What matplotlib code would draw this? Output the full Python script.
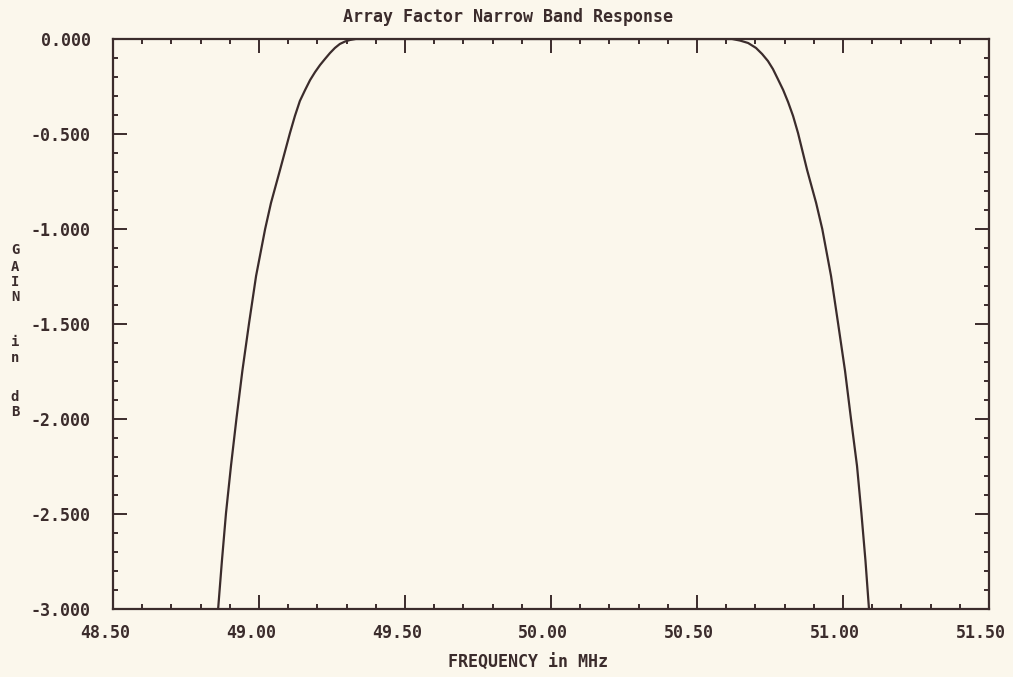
import numpy as np
import matplotlib
matplotlib.use('agg')
import matplotlib.pyplot as plt
from matplotlib.ticker import MultipleLocator, FormatStrFormatter
from matplotlib.transforms import ScaledTranslation

# values (left skirt, flat top, right skirt)
freq = [48.860, 48.873, 48.887, 48.904, 48.923, 48.943, 48.966, 48.990,
        49.021, 49.041, 49.072, 49.106, 49.123, 49.140, 49.158, 49.175,
        49.192, 49.209, 49.226, 49.243, 49.260, 49.277, 49.295, 49.312,
        49.332,
        50.000,
        50.620, 50.647, 50.675, 50.702, 50.723, 50.743, 50.760, 50.777,
        50.795, 50.812, 50.829, 50.846, 50.877, 50.908, 50.929, 50.959,
        50.983, 51.007, 51.027, 51.048, 51.063, 51.077, 51.089]
gain = [-3.000, -2.747, -2.495, -2.247, -1.995, -1.747, -1.495, -1.247,
        -1.000, -0.863, -0.689, -0.495, -0.405, -0.326, -0.268, -0.216,
        -0.174, -0.137, -0.105, -0.074, -0.047, -0.026, -0.013, -0.005,
        0.000,
        0.000,
        0.000, -0.008, -0.021, -0.047, -0.079, -0.116, -0.158, -0.211,
        -0.268, -0.332, -0.405, -0.495, -0.689, -0.863, -1.000, -1.247,
        -1.495, -1.747, -1.995, -2.247, -2.495, -2.747, -3.000]

title = 'Array Factor Narrow Band Response'
xlabel = 'FREQUENCY in MHz'
ylabel_letters = ['G', 'A', 'I', 'N', 'i', 'n', 'd', 'B']
ylabel_rows = [250, 267, 282, 297, 342, 358, 397, 412]

paper = '#fbf7ec'
ink = '#3b2c2c'
font = dict(family='DejaVu Sans Mono', weight='bold', color=ink)

fig = plt.figure(figsize=(10.13, 6.77), dpi=100, facecolor=paper)
ax = fig.add_axes([113 / 1013, 1 - 609 / 677, 876 / 1013, 570 / 677])
ax.set_facecolor(paper)

ax.plot(freq, gain, color=ink, lw=1.6, solid_joinstyle='round')

ax.set_xlim(48.5, 51.5)
ax.set_ylim(-3.0, 0.0)
ax.xaxis.set_major_locator(MultipleLocator(0.5))
ax.xaxis.set_minor_locator(MultipleLocator(0.1))
ax.yaxis.set_major_locator(MultipleLocator(0.5))
ax.yaxis.set_minor_locator(MultipleLocator(0.1))
ax.xaxis.set_major_formatter(FormatStrFormatter('%.2f'))
ax.yaxis.set_major_formatter(FormatStrFormatter('%.3f'))

for s in ax.spines.values():
    s.set_color(ink)
    s.set_linewidth(1.6)
ax.tick_params(which='both', direction='in', top=True, right=True,
               color=ink, width=1.4)
ax.tick_params(which='major', length=10)
ax.tick_params(which='minor', length=3.5)
ax.tick_params(axis='x', which='major', pad=11)
ax.tick_params(axis='y', which='major', pad=16)

for lab in ax.get_xticklabels() + ax.get_yticklabels():
    lab.set_fontfamily('DejaVu Sans Mono')
    lab.set_fontweight('bold')
    lab.set_fontsize(12)
    lab.set_color(ink)
for lab in ax.get_xticklabels():
    lab.set_transform(lab.get_transform() +
                      ScaledTranslation(-8 / 100, 0, fig.dpi_scale_trans))

fig.text(508 / 1013, 1 - 17 / 677, title, ha='center', va='center',
         fontsize=12, **font)
fig.text(528 / 1013, 1 - 663 / 677, xlabel, ha='center', va='center',
         fontsize=12, **font)
for ch, row in zip(ylabel_letters, ylabel_rows):
    fig.text(15 / 1013, 1 - row / 677, ch, ha='center', va='center',
             fontsize=10, **font)

fig.savefig('out.png', dpi=100, facecolor=paper)
